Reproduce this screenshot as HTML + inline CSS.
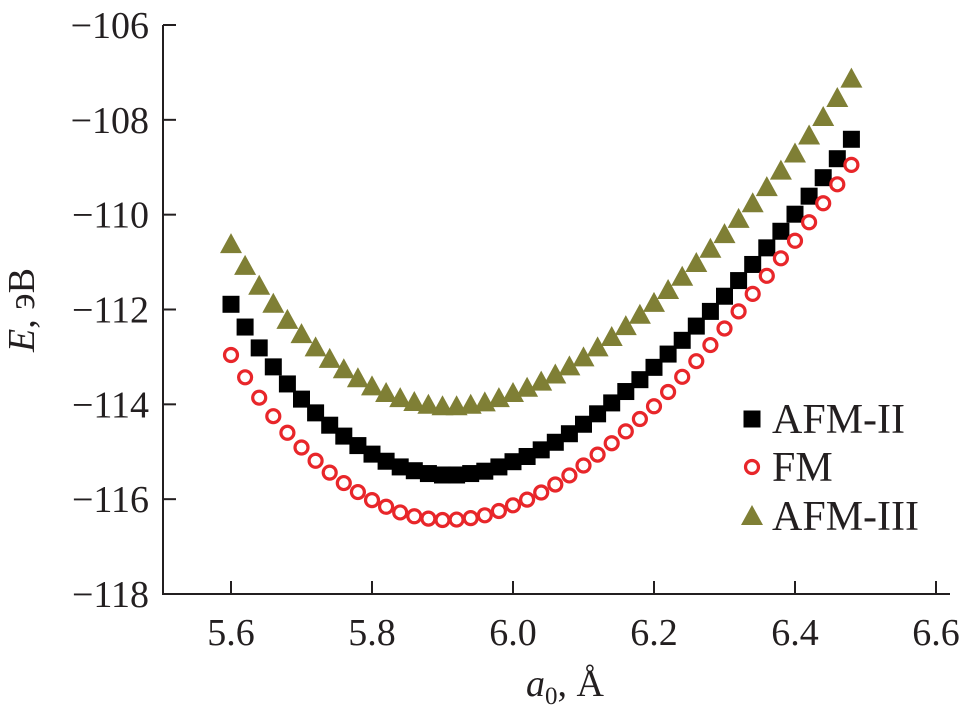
<!DOCTYPE html>
<html><head><meta charset="utf-8"><style>
html,body{margin:0;padding:0;background:#fff;}
svg{display:block;}
svg text{font-family:"Liberation Serif","Times New Roman",serif;}
</style></head><body>
<svg id="chart" width="962" height="713"></svg>
<script>
const xVals=[5.60,5.62,5.64,5.66,5.68,5.70,5.72,5.74,5.76,5.78,5.80,5.82,5.84,5.86,5.88,5.90,5.92,5.94,5.96,5.98,6.00,6.02,6.04,6.06,6.08,6.10,6.12,6.14,6.16,6.18,6.20,6.22,6.24,6.26,6.28,6.30,6.32,6.34,6.36,6.38,6.40,6.42,6.44,6.46,6.48];
const afm2=[-111.89,-112.37,-112.81,-113.21,-113.57,-113.89,-114.18,-114.44,-114.67,-114.87,-115.05,-115.20,-115.32,-115.40,-115.46,-115.49,-115.49,-115.46,-115.41,-115.32,-115.21,-115.10,-114.96,-114.80,-114.62,-114.42,-114.20,-113.97,-113.73,-113.48,-113.22,-112.94,-112.65,-112.35,-112.04,-111.72,-111.39,-111.05,-110.70,-110.35,-109.99,-109.61,-109.22,-108.82,-108.41];
const fm=[-112.96,-113.43,-113.86,-114.25,-114.60,-114.91,-115.19,-115.44,-115.66,-115.85,-116.02,-116.16,-116.28,-116.36,-116.41,-116.44,-116.43,-116.40,-116.34,-116.25,-116.13,-116.01,-115.86,-115.69,-115.50,-115.29,-115.06,-114.82,-114.57,-114.31,-114.04,-113.74,-113.42,-113.09,-112.75,-112.40,-112.04,-111.67,-111.29,-110.92,-110.55,-110.16,-109.76,-109.36,-108.95];
const afm3=[-110.62,-111.08,-111.50,-111.88,-112.22,-112.52,-112.80,-113.04,-113.26,-113.45,-113.62,-113.76,-113.87,-113.95,-114.01,-114.04,-114.04,-114.01,-113.96,-113.87,-113.76,-113.65,-113.52,-113.37,-113.20,-113.01,-112.80,-112.58,-112.35,-112.11,-111.86,-111.59,-111.31,-111.02,-110.72,-110.41,-110.09,-109.76,-109.42,-109.07,-108.71,-108.33,-107.94,-107.54,-107.13];
const xTicks=[5.6,5.8,6.0,6.2,6.4,6.6];
const xTickLabels=["5.6","5.8","6.0","6.2","6.4","6.6"];
const yTicks=[-106,-108,-110,-112,-114,-116,-118];
const yTickLabels=["\u2212106","\u2212108","\u2212110","\u2212112","\u2212114","\u2212116","\u2212118"];

const NS="http://www.w3.org/2000/svg";
const svg=document.getElementById('chart');
const FF='"Liberation Serif","Times New Roman",serif';
function X(v){return 231+(v-5.6)*(936-231)/1.0;}
function Y(v){return 25+(-106-v)*(594-25)/12;}
function mk(tag,attrs,parent){const e=document.createElementNS(NS,tag);for(const k in attrs)e.setAttribute(k,attrs[k]);(parent||svg).appendChild(e);return e;}

const ax=mk('path',{d:'M163,25 L163,594 L950,594',fill:'none',stroke:'#231f20','stroke-width':2});


xTicks.forEach((t,i)=>{
  const l=mk('line',{x1:X(t),x2:X(t),y1:594,y2:581,stroke:'#231f20','stroke-width':2});
  
  
  const tx=mk('text',{x:X(t),y:645,'text-anchor':'middle','font-size':38,'font-family':FF,fill:'#231f20'});
  tx.textContent=xTickLabels[i];
  
  
});
yTicks.forEach((t,i)=>{
  const l=mk('line',{x1:163,x2:176,y1:Y(t),y2:Y(t),stroke:'#231f20','stroke-width':2});
  
  
  const tx=mk('text',{x:149,y:Y(t)+13,'text-anchor':'end','font-size':38,'font-family':FF,fill:'#231f20'});
  tx.textContent=yTickLabels[i];
  
  
});
const yt=mk('text',{x:0,y:0,transform:'translate(34,310) rotate(-90)','text-anchor':'middle','font-size':38,'font-family':FF,fill:'#231f20'});
yt.innerHTML='<tspan font-style="italic">E</tspan>, эВ';


const xt=mk('text',{x:565,y:696,'text-anchor':'middle','font-size':38,'font-family':FF,fill:'#231f20'});
xt.innerHTML='<tspan font-style="italic">a</tspan><tspan font-size="25" dy="8">0</tspan><tspan dy="-8">, Å</tspan>';



function sq(cx,cy,g){return mk('rect',{x:cx-8.5,y:cy-8.5,width:17,height:17,fill:'#000'},g);}
function ci(cx,cy,g){return mk('circle',{cx:cx,cy:cy,r:6.5,fill:'none',stroke:'#e8262a','stroke-width':3.2},g);}
function tr(cx,cy,g){return mk('polygon',{points:`${cx-11},${cy+9} ${cx+11},${cy+9} ${cx},${cy-11}`,fill:'#7f7f35'},g);}

const series=[[afm3,tr,'afm3-series'],[afm2,sq,'afm2-series'],[fm,ci,'fm-series']];
series.forEach(([vals,fn,name])=>{
  const g=mk('g',{});
  
  
  vals.forEach((v,i)=>{
    const m=fn(X(xVals[i]),Y(v),g);
    
    
  });
});

const lg=mk('g',{});


const leg=[[sq,'AFM-II',419],[ci,'FM',467],[tr,'AFM-III',516]];
leg.forEach(([fn,lab,y])=>{
  const m=fn(752,y,lg);
  
  
  const t=mk('text',{x:772,y:y+14,'font-size':42,'font-family':FF,fill:'#231f20'},lg);
  t.textContent=lab;
  
  
});
</script>
</body></html>
